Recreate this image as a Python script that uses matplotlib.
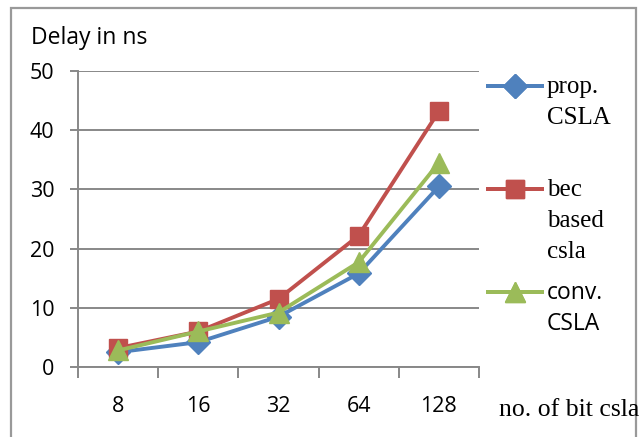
import numpy as np
import matplotlib.pyplot as plt
from matplotlib.patches import Rectangle

categories = ['8', '16', '32', '64', '128']
prop_csla = [2.5, 4.2, 8.5, 15.8, 30.5]
bec_csla = [3.2, 6.0, 11.5, 22.2, 43.2]
conv_csla = [2.8, 6.0, 9.2, 17.7, 34.5]

blue = '#4F81BD'
red = '#C0504D'
green = '#9BBB59'
grid = '#888888'

fig = plt.figure(figsize=(6.44, 4.37), dpi=100)
ax = fig.add_axes([78 / 644, 1 - 367 / 437, 401 / 644, 296 / 437])

x = np.arange(len(categories))
l1, = ax.plot(x, prop_csla, color=blue, lw=2.8, marker='D', ms=12, zorder=3)
l2, = ax.plot(x, bec_csla, color=red, lw=2.8, marker='s', ms=13, zorder=3)
l3, = ax.plot(x, conv_csla, color=green, lw=2.8, marker='^', ms=14.5, zorder=4)

ax.set_xlim(-0.5, len(categories) - 0.5)
ax.set_ylim(0, 50)
ax.set_yticks(np.arange(0, 51, 10))
ax.yaxis.grid(True, color=grid, lw=1.4)
ax.set_axisbelow(True)
for s in ['top', 'right']:
    ax.spines[s].set_visible(False)
for s in ['left', 'bottom']:
    ax.spines[s].set_color(grid)
    ax.spines[s].set_linewidth(1.4)

# x ticks between categories, labels centered
ax.set_xticks(np.arange(-0.5, len(categories), 1))
ax.set_xticklabels([])
ax.set_xticks(x, minor=True)
ax.set_xticklabels(categories, minor=True, fontsize=15.5, family='Open Sans')
ax.tick_params(axis='x', which='major', length=8, color=grid, width=1.4)
ax.tick_params(axis='x', which='minor', length=0, pad=21)
ax.tick_params(axis='y', length=6, color=grid, width=1.4, labelsize=15.5, pad=11)
for t in ax.get_yticklabels():
    t.set_family('Open Sans')

fig.text(31 / 644, 1 - 38 / 437, 'Delay in ns', fontsize=16.5, family='Open Sans',
         va='center', ha='left')
fig.text(499 / 644, 1 - 410 / 437, 'no. of bit csla', fontsize=18.5,
         family='Liberation Serif', va='center', ha='left')

# legend entries: key on the first text line, further lines below it
entries = [(l1, ['prop.', 'CSLA'], 'Liberation Serif', 87),
           (l2, ['bec', 'based', 'csla'], 'Liberation Serif', 190),
           (l3, ['conv.', 'CSLA'], 'Open Sans', 293)]
for h, lines, fam, y0 in entries:
    lg = fig.legend([h], [''], loc='center left',
                    bbox_to_anchor=(488 / 644, 1 - y0 / 437),
                    frameon=False, handlelength=2.8, handletextpad=0,
                    borderaxespad=0, borderpad=0, prop={'size': 14})
    fig.add_artist(lg)
    for i, line in enumerate(lines):
        fig.text(547 / 644, 1 - (y0 + 31 * i) / 437, line, family=fam,
                 fontsize=18 if fam != 'Open Sans' else 16.5,
                 va='center', ha='left')

fig.patches.append(Rectangle((11 / 644, -0.05), 625 / 644, 1.05 - 8 / 437,
                             transform=fig.transFigure, fill=False,
                             edgecolor='#999999', lw=1.6))

fig.savefig('out.png', dpi=100)
